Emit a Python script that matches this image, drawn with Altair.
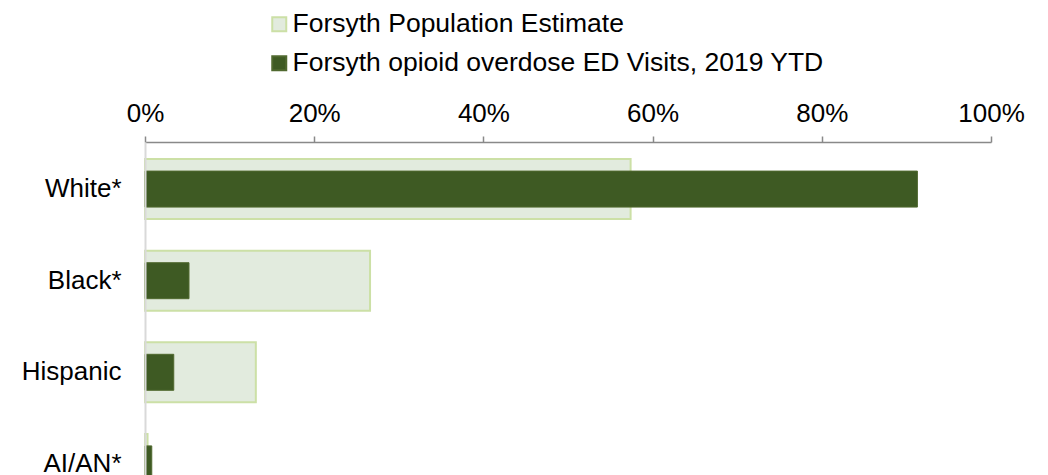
import altair as alt
import pandas as pd

categories = ["White*", "Black*", "Hispanic", "AI/AN*"]
series_names = ["Forsyth Population Estimate", "Forsyth opioid overdose ED Visits, 2019 YTD"]
pop_share = [0.574, 0.266, 0.131, 0.003]
ed_share = [0.913, 0.052, 0.034, 0.008]
tick_values = [0, 0.2, 0.4, 0.6, 0.8, 1.0]

fill_colors = ["#e2ebde", "#3e5a23"]
stroke_colors = ["#cce0a6", "#50692f"]

rows = []
for c, v in zip(categories, pop_share):
    rows.append({"category": c, "series": series_names[0], "value": v})
for c, v in zip(categories, ed_share):
    rows.append({"category": c, "series": series_names[1], "value": v})
df = pd.DataFrame(rows)

FONT = "Liberation Sans, Arial, sans-serif"

legend = alt.Legend(
    orient="none", legendX=121, legendY=-131, title=None,
    symbolType="square", symbolSize=196, symbolStrokeWidth=2,
    labelFontSize=26.5, labelFont=FONT, labelColor="black",
    rowPadding=12, labelOffset=0, labelLimit=0, direction="vertical",
)

base = alt.Chart(df).encode(
    y=alt.Y(
        "category:N", sort=categories,
        scale=alt.Scale(domain=categories, paddingInner=0, paddingOuter=0.014),
        axis=alt.Axis(title=None, ticks=False, labelFontSize=26, labelFont=FONT,
                      labelColor="black", labelPadding=24, domainColor="#d9d9d9",
                      domainWidth=2, zindex=1),
    ),
    x=alt.X(
        "value:Q", scale=alt.Scale(domain=[0, 1], nice=False),
        axis=alt.Axis(orient="top", values=tick_values, format=".0%", title=None,
                      labelFontSize=26, labelFont=FONT, labelColor="black",
                      labelFlush=False,
                      domainColor="#898989", domainWidth=1.5, tickColor="#898989",
                      tickWidth=1.5, tickSize=6, labelPadding=10, grid=False),
    ),
    fill=alt.Fill("series:N", scale=alt.Scale(domain=series_names, range=fill_colors), legend=legend),
    stroke=alt.Stroke("series:N", scale=alt.Scale(domain=series_names, range=stroke_colors), legend=legend),
)

light = base.transform_filter(alt.datum.series == series_names[0]).mark_bar(size=60, strokeWidth=2)
dark = base.transform_filter(alt.datum.series == series_names[1]).mark_bar(size=36, strokeWidth=1)

chart = alt.layer(light, dark).properties(
    width=846, height=369,
    autosize=alt.AutoSizeParams(type="none"),
    padding={"left": 137, "top": 134, "right": 40, "bottom": 0},
).configure_view(stroke=None)

chart.save("out.html", embed_options={"renderer": "svg", "actions": False})
